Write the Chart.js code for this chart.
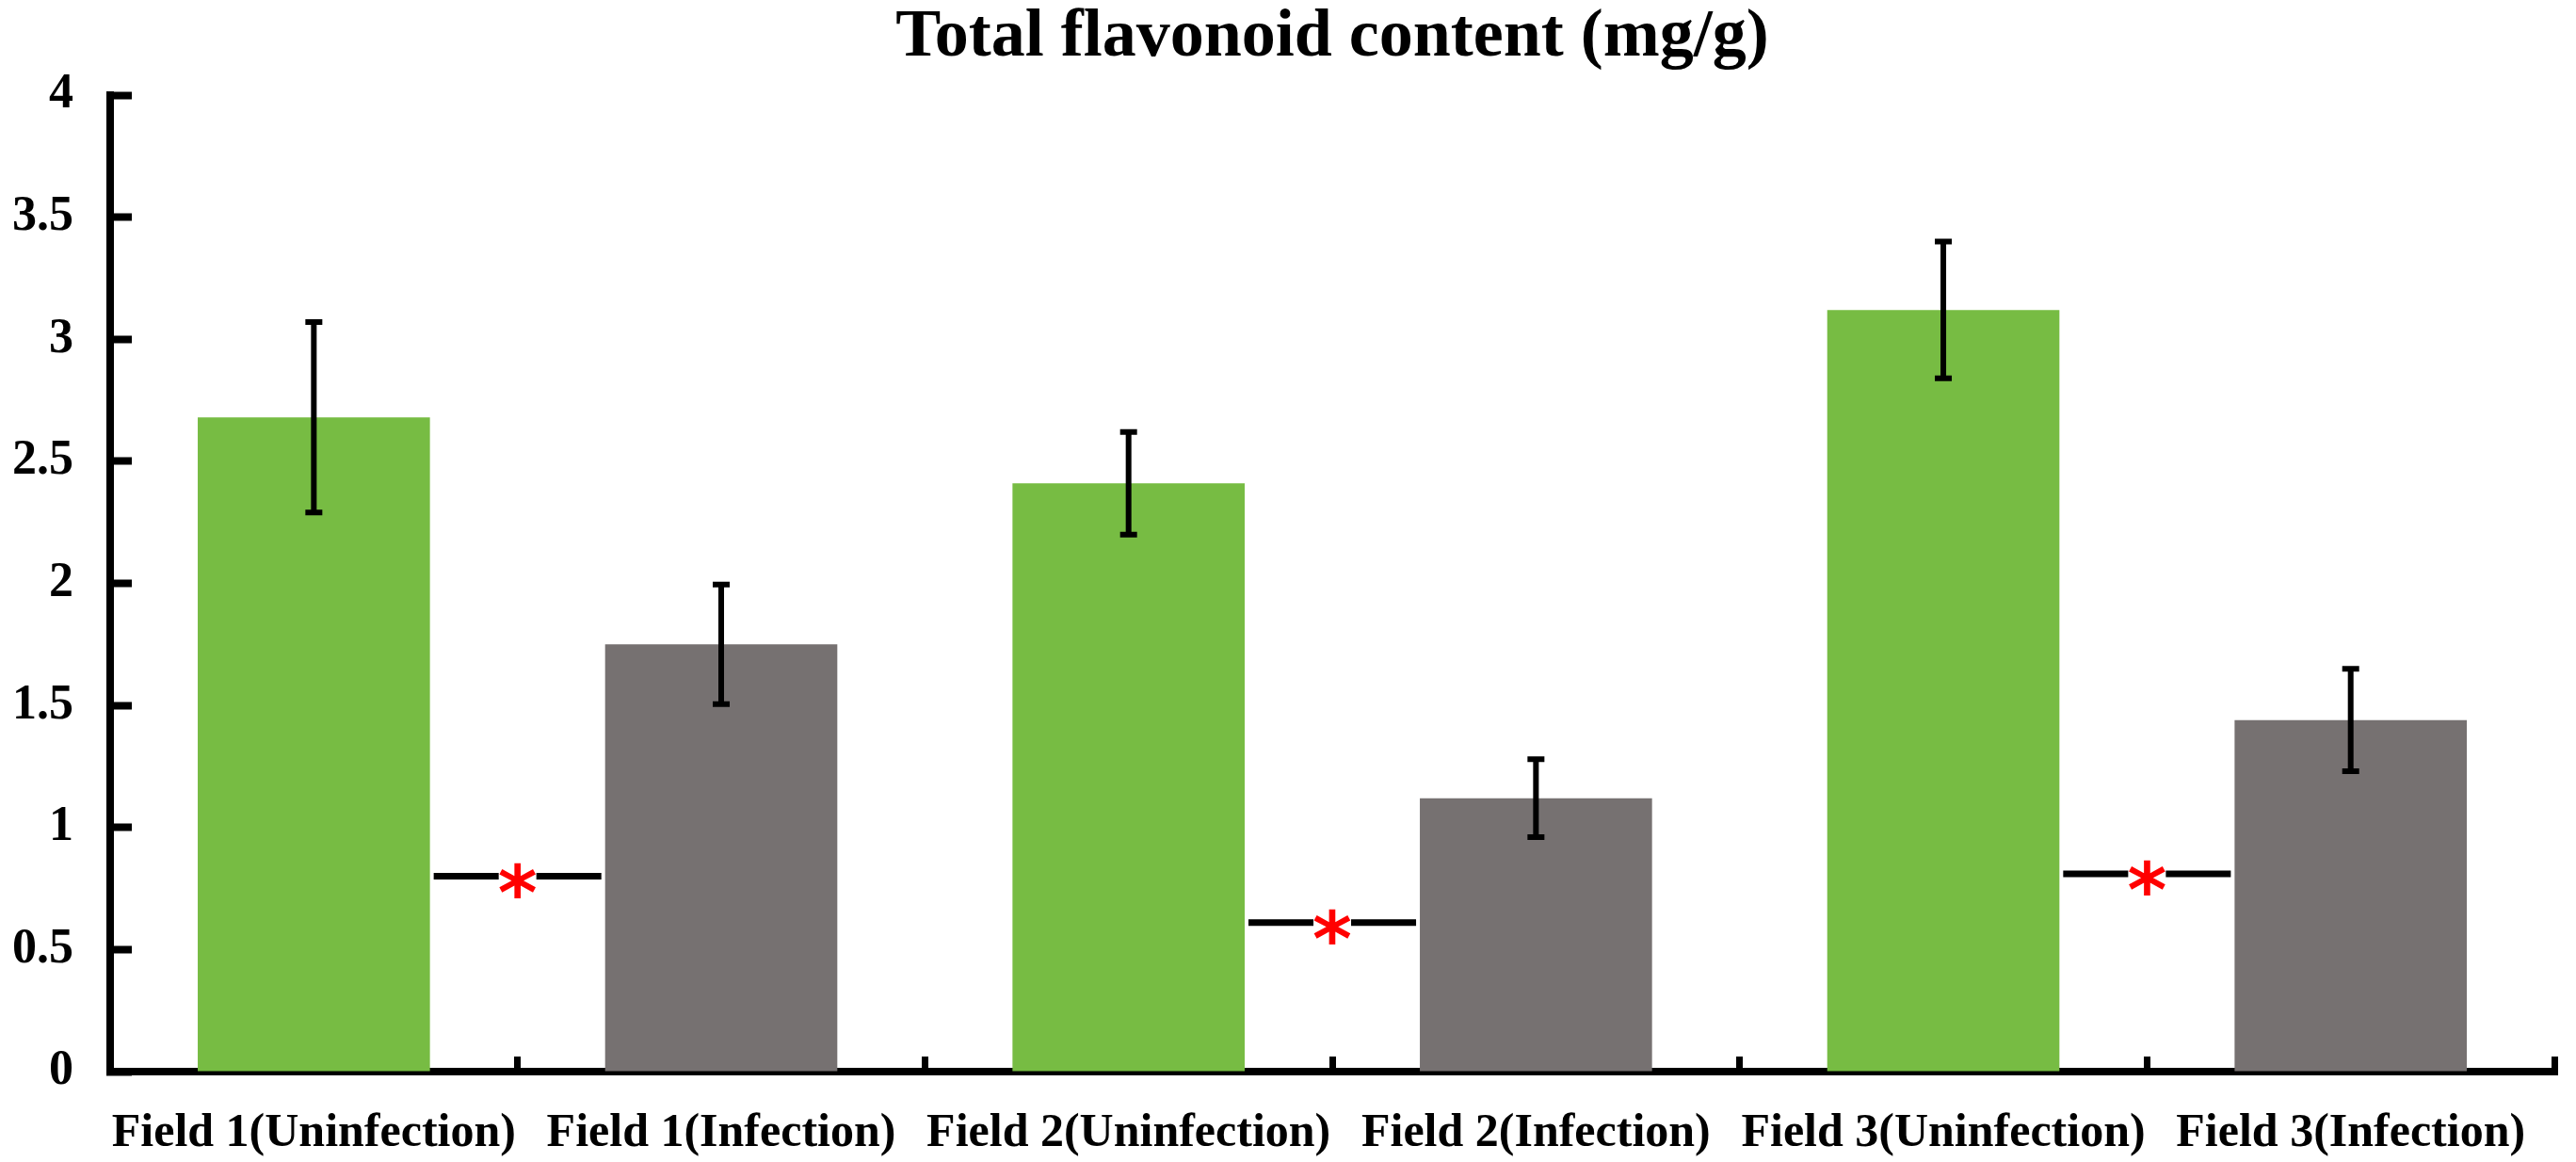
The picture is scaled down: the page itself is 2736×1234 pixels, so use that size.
<!DOCTYPE html>
<html>
<head>
<meta charset="utf-8">
<script src="https://cdn.jsdelivr.net/npm/chart.js@4/dist/chart.umd.min.js"></script>
<style>
  html, body { margin: 0; padding: 0; background: #fff; }
  canvas { display: block; }
</style>
</head>
<body>
<canvas id="chart" width="2736" height="1234"></canvas>
<script>
// values
const categories = ['Field 1(Uninfection)', 'Field 1(Infection)', 'Field 2(Uninfection)', 'Field 2(Infection)', 'Field 3(Uninfection)', 'Field 3(Infection)'];
const contents = [2.68, 1.75, 2.41, 1.12, 3.12, 1.44];
const errors = [0.39, 0.245, 0.21, 0.16, 0.28, 0.21];
const barColors = ['#77bc43', '#767171', '#77bc43', '#767171', '#77bc43', '#767171'];
const yTicks = [0, 0.5, 1, 1.5, 2, 2.5, 3, 3.5, 4];
// significance bracket height for each field pair (bar 0-1, 2-3, 4-5)
const sigLevels = [0.80, 0.61, 0.81];
const sigMarks = ['*', '*', '*'];

const serif = 'Liberation Serif, Times New Roman, serif';

// error bars on top of bars
const errorBars = {
  id: 'errorBars',
  afterDatasetsDraw(chart) {
    const ctx = chart.ctx;
    const y = chart.scales.y;
    const meta = chart.getDatasetMeta(0);
    ctx.save();
    ctx.strokeStyle = '#000';
    ctx.lineWidth = 6;
    meta.data.forEach((bar, i) => {
      const top = y.getPixelForValue(contents[i] + errors[i]);
      const bot = y.getPixelForValue(contents[i] - errors[i]);
      ctx.beginPath();
      ctx.moveTo(bar.x, top);
      ctx.lineTo(bar.x, bot);
      ctx.moveTo(bar.x - 9, top);
      ctx.lineTo(bar.x + 9, top);
      ctx.moveTo(bar.x - 9, bot);
      ctx.lineTo(bar.x + 9, bot);
      ctx.stroke();
    });
    ctx.restore();
  }
};

// line between paired bars with a red asterisk in the middle
const sigLines = {
  id: 'sigLines',
  afterDatasetsDraw(chart) {
    const ctx = chart.ctx;
    const y = chart.scales.y;
    const meta = chart.getDatasetMeta(0);
    ctx.save();
    ctx.font = 'bold 80px DejaVu Sans, sans-serif';
    sigLevels.forEach((lvl, k) => {
      const a = meta.data[k * 2], b = meta.data[k * 2 + 1];
      const x1 = a.x + a.width / 2 + 4;
      const x2 = b.x - b.width / 2 - 4;
      const mid = (a.x + b.x) / 2;
      const py = y.getPixelForValue(lvl);
      ctx.strokeStyle = '#000';
      ctx.lineWidth = 7;
      ctx.beginPath();
      ctx.moveTo(x1, py);
      ctx.lineTo(mid - 20, py);
      ctx.moveTo(mid + 20, py);
      ctx.lineTo(x2, py);
      ctx.stroke();
      const m = ctx.measureText(sigMarks[k]);
      const h = m.actualBoundingBoxAscent + m.actualBoundingBoxDescent;
      ctx.fillStyle = '#ff0000';
      ctx.textAlign = 'center';
      ctx.textBaseline = 'alphabetic';
      ctx.fillText(sigMarks[k], mid, py + 4 + h / 2 - m.actualBoundingBoxDescent);
    });
    ctx.restore();
  }
};

new Chart(document.getElementById('chart'), {
  type: 'bar',
  data: {
    labels: categories,
    datasets: [{
      data: contents,
      backgroundColor: barColors,
      borderWidth: 0,
      categoryPercentage: 1,
      barPercentage: 0.57
    }]
  },
  options: {
    responsive: false,
    animation: false,
    devicePixelRatio: 1,
    layout: { autoPadding: false, padding: { left: 0, right: 12, top: 0, bottom: 0 } },
    plugins: {
      legend: { display: false },
      tooltip: { enabled: false },
      title: {
        display: true,
        text: 'Total flavonoid content (mg/g)',
        color: '#000',
        fullSize: false,
        font: { family: serif, weight: 'bold', size: 72, lineHeight: 1 },
        padding: { top: 4, bottom: 25 }
      }
    },
    scales: {
      x: {
        grid: {
          display: true,
          drawOnChartArea: false,
          offset: true,
          tickLength: -16,
          tickWidth: 7,
          tickColor: '#000'
        },
        border: { display: true, color: '#000', width: 8 },
        ticks: {
          color: '#000',
          padding: 52,
          maxRotation: 0,
          autoSkip: false,
          font: { family: serif, weight: 'bold', size: 50 }
        },
        afterFit(scale) { scale.height = 96; }
      },
      y: {
        min: 0,
        max: 4,
        afterBuildTicks(scale) { scale.ticks = yTicks.map(v => ({ value: v })); },
        grid: {
          display: true,
          drawOnChartArea: false,
          tickLength: -23,
          tickWidth: 8,
          tickColor: '#000'
        },
        border: { display: true, color: '#000', width: 8 },
        ticks: {
          color: '#000',
          padding: 62,
          font: { family: serif, weight: 'bold', size: 52 },
          callback: v => String(v)
        },
        afterFit(scale) { scale.width = 117; }
      }
    }
  },
  plugins: [errorBars, sigLines]
});
</script>
</body>
</html>
